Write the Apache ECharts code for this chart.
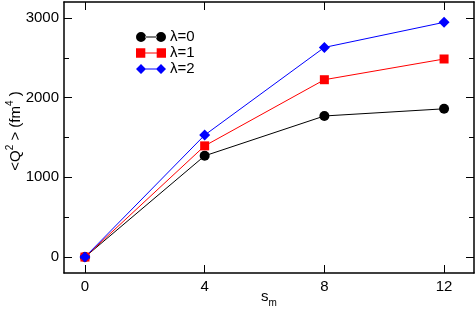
<!DOCTYPE html>
<html>
<head>
<meta charset="utf-8">
<script src="https://cdn.jsdelivr.net/npm/echarts@6/dist/echarts.min.js"></script>
<style>html,body{margin:0;padding:0;background:#fff}#c{width:476px;height:311px}</style>
</head>
<body>
<div id="c"></div>
<script>
const xValues = [0, 4, 8, 12];
const lambda0 = [0, 1270, 1770, 1860];
const lambda1 = [0, 1395, 2225, 2485];
const lambda2 = [0, 1530, 2630, 2945];
const seriesNames = ['\u03bb=0', '\u03bb=1', '\u03bb=2'];
const xTicks = [0, 4, 8, 12];
const yTicks = [0, 1000, 2000, 3000];
const yMinorTicks = [500, 1500, 2500];

const FONT = 'Liberation Sans, Arial, sans-serif';
const chart = echarts.init(document.getElementById('c'), null, {renderer: 'canvas'});

function pairs(ys) { return xValues.map((x, i) => [x, ys[i]]); }
const plain = v => String(v);

const circIcon = 'path://M0,5a5,5 0 1,0 10,0a5,5 0 1,0 -10,0Z M9,4.5H21V5.5H9Z M20,5a5,5 0 1,0 10,0a5,5 0 1,0 -10,0Z';
const sqIcon = 'path://M0.5,0.5H9.5V9.5H0.5Z M9,4.5H21V5.5H9Z M20.5,0.5H29.5V9.5H20.5Z';
const diaIcon = 'path://M0,5L5,0L10,5L5,10Z M9,4.5H21V5.5H9Z M20,5L25,0L30,5L25,10Z';

const axisLineStyle = {color: '#000', width: 1.5};
const xMin = -0.7, xMax = 13, yMin = -200, yMax = 3200;

const nameRich = {
  n: {fontFamily: FONT, fontSize: 15, fill: '#000', verticalAlign: 'bottom'},
  sup: {fontFamily: FONT, fontSize: 10, fill: '#000', verticalAlign: 'bottom', padding: [0, 0, 8, 0]},
  nt: {fontFamily: FONT, fontSize: 15, fill: '#000', verticalAlign: 'top'},
  sub: {fontFamily: FONT, fontSize: 10, fill: '#000', verticalAlign: 'top', padding: [9, 0, 0, 0]}
};

chart.setOption({
  animation: false,
  backgroundColor: '#fff',
  grid: {left: 64, right: 2, top: 2, bottom: 38, show: false, containLabel: false, outerBoundsMode: 'none'},
  legend: {
    orient: 'vertical', left: 136, top: 29, padding: 0,
    itemWidth: 30, itemHeight: 10, itemGap: 0,
    textStyle: {fontFamily: FONT, fontSize: 15, lineHeight: 16, color: '#000', padding: [0, 0, 0, -1]},
    data: [
      {name: seriesNames[0], icon: circIcon},
      {name: seriesNames[1], icon: sqIcon},
      {name: seriesNames[2], icon: diaIcon}
    ]
  },
  graphic: [
    {
      type: 'text', x: 14, y: 131, rotation: Math.PI / 2,
      style: {text: '{n|<Q}{sup|2}{n| > (fm}{sup|4}{n| )}', rich: nameRich, align: 'center', verticalAlign: 'middle'}
    },
    {
      type: 'text', x: 269, y: 289,
      style: {text: '{nt|s}{sub|m}', rich: nameRich, align: 'center', verticalAlign: 'top'}
    }
  ],
  xAxis: [
    {
      type: 'value', min: xMin, max: xMax, position: 'bottom',
      axisLine: {show: true, onZero: false, lineStyle: axisLineStyle},
      axisTick: {show: true, inside: true, length: 8, customValues: xTicks, lineStyle: {color: '#000', width: 1}},
      axisLabel: {show: true, margin: 6, customValues: xTicks, formatter: plain, fontFamily: FONT, fontSize: 15, color: '#000'},
      splitLine: {show: false}
    },
    {
      type: 'value', min: xMin, max: xMax, position: 'top',
      axisLine: {show: true, onZero: false, lineStyle: axisLineStyle},
      axisTick: {show: true, inside: true, length: 8, customValues: xTicks, lineStyle: {color: '#000', width: 1}},
      axisLabel: {show: false},
      splitLine: {show: false}
    }
  ],
  yAxis: [
    {
      type: 'value', min: yMin, max: yMax, position: 'left',
      axisLine: {show: true, onZero: false, lineStyle: axisLineStyle},
      axisTick: {show: true, inside: true, length: 8, customValues: yTicks, lineStyle: {color: '#000', width: 1}},
      axisLabel: {show: true, margin: 5, customValues: yTicks, formatter: plain, fontFamily: FONT, fontSize: 15, color: '#000'},
      splitLine: {show: false}
    },
    {
      type: 'value', min: yMin, max: yMax, position: 'right',
      axisLine: {show: true, onZero: false, lineStyle: axisLineStyle},
      axisTick: {show: true, inside: true, length: 8, customValues: yTicks, lineStyle: {color: '#000', width: 1}},
      axisLabel: {show: false},
      splitLine: {show: false}
    },
    {
      type: 'value', min: yMin, max: yMax, position: 'left',
      axisLine: {show: false, onZero: false},
      axisTick: {show: true, inside: true, length: 5, customValues: yMinorTicks, lineStyle: {color: '#000', width: 1}},
      axisLabel: {show: false},
      splitLine: {show: false}
    },
    {
      type: 'value', min: yMin, max: yMax, position: 'right',
      axisLine: {show: false, onZero: false},
      axisTick: {show: true, inside: true, length: 5, customValues: yMinorTicks, lineStyle: {color: '#000', width: 1}},
      axisLabel: {show: false},
      splitLine: {show: false}
    }
  ],
  series: [
    {name: seriesNames[0], type: 'line', data: pairs(lambda0), symbol: 'circle', symbolSize: 10,
      itemStyle: {color: '#000'}, lineStyle: {color: '#000', width: 1}},
    {name: seriesNames[1], type: 'line', data: pairs(lambda1), symbol: 'rect', symbolSize: 9,
      itemStyle: {color: '#ff0000'}, lineStyle: {color: '#ff0000', width: 1}},
    {name: seriesNames[2], type: 'line', data: pairs(lambda2), symbol: 'diamond', symbolSize: 11,
      itemStyle: {color: '#0000ff'}, lineStyle: {color: '#0000ff', width: 1}}
  ]
});
</script>
</body>
</html>
